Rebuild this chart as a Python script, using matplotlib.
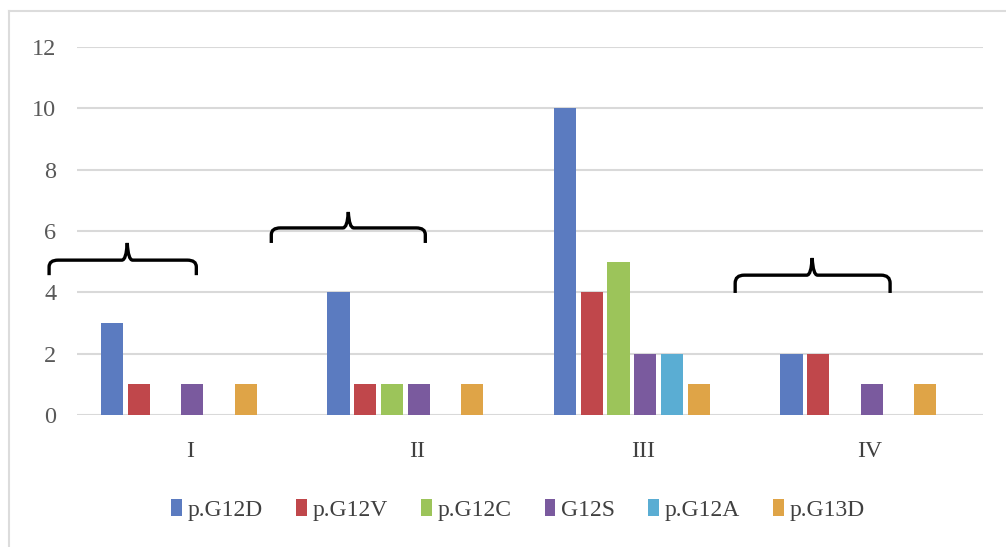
import matplotlib.pyplot as plt
import numpy as np
from matplotlib.path import Path
from matplotlib.patches import PathPatch
from matplotlib.lines import Line2D

categories = ['I', 'II', 'III', 'IV']
series_names = ['p.G12D', 'p.G12V', 'p.G12C', 'G12S', 'p.G12A', 'p.G13D']
g12d = [3, 4, 10, 2]
g12v = [1, 1, 4, 2]
g12c = [0, 1, 5, 0]
g12s = [1, 1, 2, 1]
g12a = [0, 0, 2, 0]
g13d = [1, 1, 1, 1]
yticks = [0, 2, 4, 6, 8, 10, 12]

colors = ['#5b7bc0', '#c0474b', '#9cc45a', '#7a5a9e', '#5aadd3', '#dfa447']

# braces over groups: (x left, x tip, x right, y ends, y line, y tip)
braces = [
    (-0.623, -0.278, 0.027, 4.56, 5.05, 5.61),
    (0.358, 0.698, 1.038, 5.61, 6.10, 6.62),
    (2.406, 2.746, 3.090, 3.98, 4.56, 5.12),
]

plt.rcParams['font.family'] = ['Liberation Serif', 'DejaVu Serif']

fig = plt.figure(figsize=(10.06, 5.47), dpi=100)
ax = fig.add_axes([0.0765, 0.2413, 0.9006, 0.6728])

# light frame: only the left and top edges show in the reference
fx, fy = 9 / 1006, 1 - 11 / 547
fig.add_artist(Line2D([fx, fx], [0, fy], transform=fig.transFigure,
                      color='#dcdcdc', linewidth=1.5))
fig.add_artist(Line2D([fx, 1], [fy, fy], transform=fig.transFigure,
                      color='#dcdcdc', linewidth=1.5))

data = [g12d, g12v, g12c, g12s, g12a, g13d]
x = np.arange(len(categories))
slot = 0.118
width = 0.098
shift = -0.05
for i, (vals, name) in enumerate(zip(data, series_names)):
    off = shift + (i - 2.5) * slot
    ax.bar(x + off, vals, width=width, color=colors[i], label=name, zorder=3)

ax.set_xlim(-0.5, 3.5)
ax.set_ylim(0, 12)
ax.set_yticks(yticks)
ax.set_xticks(x)
ax.set_xticklabels(categories)
ax.grid(axis='y', color='#d9d9d9', linewidth=1.5, zorder=0)
ax.set_axisbelow(True)
for s in ax.spines.values():
    s.set_visible(False)
ax.tick_params(axis='y', length=0, pad=15, labelsize=17.5, labelcolor='#595959')
ax.tick_params(axis='x', length=0, pad=19, labelsize=17, labelcolor='#404040')

for xl, xt, xr, ye, yl, yt in braces:
    r = 0.04
    ry = (yl - ye) * 0.45
    verts = [
        (xl, ye), (xl, yl - ry), (xl, yl), (xl + r, yl),
        (xt - r * 0.6, yl), (xt - r * 0.1, yl), (xt, yt),
        (xt + r * 0.1, yl), (xt + r * 0.6, yl),
        (xr - r, yl), (xr, yl), (xr, yl - ry), (xr, ye),
    ]
    codes = [Path.MOVETO, Path.LINETO, Path.CURVE3, Path.CURVE3,
             Path.LINETO, Path.CURVE3, Path.CURVE3,
             Path.CURVE3, Path.CURVE3,
             Path.LINETO, Path.CURVE3, Path.CURVE3, Path.LINETO]
    ax.add_patch(PathPatch(Path(verts, codes), fill=False, edgecolor='black',
                           linewidth=2.4, clip_on=False, zorder=5))

fig.legend(loc='center', bbox_to_anchor=(0.515, 0.068), ncol=6, frameon=False,
           fontsize=17, handlelength=0.45, handleheight=0.75, handletextpad=0.25,
           columnspacing=1.4, labelcolor='#404040')

fig.savefig('out.png', dpi=100, facecolor='white')
